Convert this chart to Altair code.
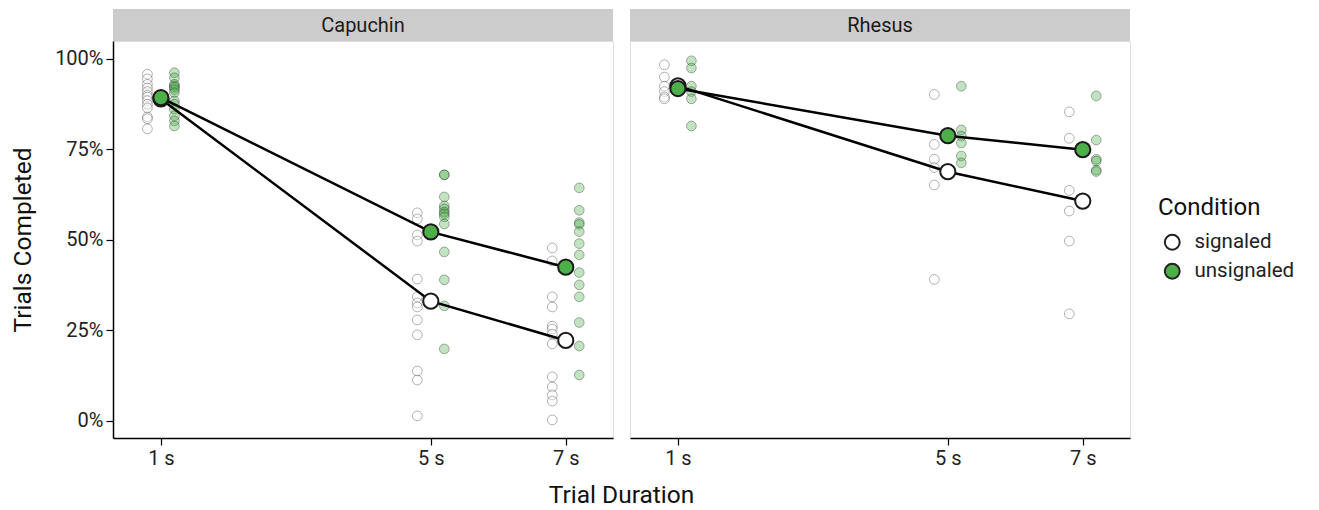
import altair as alt
import pandas as pd

species_list = ["Capuchin", "Rhesus"]
durations = [1, 5, 7]
conditions = ["signaled", "unsignaled"]

# Percent of trials completed per subject
cap_1s_signaled = [95.8, 94.5, 93.0, 92.0, 91.0, 90.0, 89.5, 88.5, 87.5, 86.5, 84.0, 83.5, 80.7]
cap_1s_unsignaled = [96.2, 94.8, 93.0, 92.5, 92.1, 91.5, 90.7, 88.4, 87.5, 86.1, 84.3, 82.9, 81.5]
cap_5s_signaled = [57.5, 55.8, 51.4, 49.7, 39.2, 34.3, 32.6, 31.5, 27.9, 23.8, 13.8, 11.3, 1.4]
cap_5s_unsignaled = [68.0, 68.0, 61.9, 59.4, 58.6, 57.7, 57.2, 56.4, 54.4, 46.7, 39.0, 31.8, 19.9]
cap_7s_signaled = [47.8, 44.2, 34.3, 31.5, 26.2, 25.4, 24.0, 21.3, 12.2, 9.4, 7.2, 5.5, 0.3]
cap_7s_unsignaled = [64.4, 58.2, 54.8, 54.3, 52.3, 49.0, 45.9, 41.0, 37.6, 34.3, 27.2, 20.7, 12.7]

rh_1s_signaled = [98.4, 95.0, 92.5, 91.0, 89.5, 89.0]
rh_1s_unsignaled = [99.5, 97.5, 92.5, 91.0, 89.0, 81.5]
rh_5s_signaled = [90.2, 76.4, 72.3, 70.0, 65.2, 39.1]
rh_5s_unsignaled = [92.5, 80.4, 78.7, 76.8, 73.2, 71.3]
rh_7s_signaled = [85.4, 78.1, 63.7, 58.0, 49.7, 29.6]
rh_7s_unsignaled = [89.8, 77.6, 72.3, 71.8, 69.3, 68.9]

series = {
    ("Capuchin", 1, "signaled"): cap_1s_signaled,
    ("Capuchin", 1, "unsignaled"): cap_1s_unsignaled,
    ("Capuchin", 5, "signaled"): cap_5s_signaled,
    ("Capuchin", 5, "unsignaled"): cap_5s_unsignaled,
    ("Capuchin", 7, "signaled"): cap_7s_signaled,
    ("Capuchin", 7, "unsignaled"): cap_7s_unsignaled,
    ("Rhesus", 1, "signaled"): rh_1s_signaled,
    ("Rhesus", 1, "unsignaled"): rh_1s_unsignaled,
    ("Rhesus", 5, "signaled"): rh_5s_signaled,
    ("Rhesus", 5, "unsignaled"): rh_5s_unsignaled,
    ("Rhesus", 7, "signaled"): rh_7s_signaled,
    ("Rhesus", 7, "unsignaled"): rh_7s_unsignaled,
}

rows = []
for cond in conditions:
    for sp in species_list:
        for d in durations:
            for v in series[(sp, d, cond)]:
                rows.append({"species": sp, "duration": d, "condition": cond, "value": v / 100.0})
df = pd.DataFrame(rows)

GREEN = "#4DAF4A"
FONT = "Roboto"
W, H = 500, 397

xscale = alt.Scale(domain=[0.29, 7.7], nice=False, zero=False)
yscale = alt.Scale(domain=[-0.047, 1.0497], nice=False, zero=False)
fill_scale = alt.Scale(domain=conditions, range=["white", GREEN])

xaxis = alt.Axis(values=durations, labelExpr="datum.value + ' s'", title=None, grid=False,
                 domainColor="black", domainWidth=1.5, tickColor="black", tickWidth=1.2, tickSize=7,
                 labelFontSize=20, labelColor="#222", labelFont=FONT, labelPadding=3)
yaxis = alt.Axis(values=[0, 0.25, 0.5, 0.75, 1.0], format=".0%", title="Trials Completed", grid=False,
                 domainColor="black", domainWidth=1.5, tickColor="black", tickWidth=1.2, tickSize=7,
                 labelFontSize=20, labelColor="#222", labelFont=FONT, labelPadding=3,
                 titleFontSize=24.5, titleFontWeight="normal", titleFont=FONT, titleColor="#111", titlePadding=19)

legend = alt.Legend(title="Condition", orient="none", legendX=528, legendY=155, padding=0,
                    titleFontSize=24, titleFontWeight="normal", titleFont=FONT, titleColor="#111",
                    labelFontSize=20.5, labelFont=FONT, labelColor="#222", symbolType="circle",
                    symbolSize=220, symbolStrokeColor="#222", symbolStrokeWidth=2, symbolOpacity=1,
                    symbolOffset=4, rowPadding=5, titlePadding=12, labelOffset=12)


def panel(sp, first):
    sub = df[df["species"] == sp].copy()
    sub["xpos"] = sub["duration"] + sub["condition"].map({"signaled": -0.2, "unsignaled": 0.2})
    base = alt.Chart(sub)
    ya = yaxis if first else None

    pts = base.mark_point(filled=True, size=95, stroke="black", strokeOpacity=0.3,
                          fillOpacity=0.35, strokeWidth=1, shape="circle").encode(
        x=alt.X("xpos:Q", scale=xscale, axis=xaxis),
        y=alt.Y("value:Q", scale=yscale, axis=ya),
        color=alt.condition(alt.datum.condition == "unsignaled", alt.value(GREEN), alt.value("white")),
    )
    lines = base.mark_line(color="black", strokeWidth=2.5).encode(
        x=alt.X("duration:Q", scale=xscale),
        y=alt.Y("mean(value):Q", scale=yscale),
        detail="condition:N",
    )
    means = base.mark_point(filled=True, size=230, stroke="#1a1a1a", strokeWidth=2,
                            opacity=1, shape="circle").encode(
        x=alt.X("duration:Q", scale=xscale),
        y=alt.Y("mean(value):Q", scale=yscale),
        fill=alt.Fill("condition:N", scale=fill_scale, legend=None if first else legend),
        order=alt.Order("condition:N", sort="ascending"),
    )
    lab = alt.Chart(pd.DataFrame({"label": [sp]}))
    strip = lab.mark_rect(color="#cccccc").encode(
        x=alt.value(0), x2=alt.value(W), y=alt.value(-32), y2=alt.value(0))
    strip_text = lab.mark_text(fontSize=20, font=FONT, color="#1a1a1a", baseline="middle").encode(
        x=alt.value(W / 2), y=alt.value(-15), text="label:N")
    layers = [strip, strip_text, pts, lines, means]
    if first:
        xt = lab.mark_text(fontSize=24.5, font=FONT, color="#111", baseline="middle").encode(
            x=alt.value(W + 8.5), y=alt.value(455), text=alt.value("Trial Duration"))
        layers.append(xt)
    return alt.layer(*layers).properties(width=W, height=H)


chart = alt.hconcat(
    panel("Capuchin", True), panel("Rhesus", False), spacing=17, bounds="flush"
).resolve_scale(
    fill="shared"
).resolve_legend(fill="independent").configure_view(
    stroke="#cfcfcf", strokeWidth=1
).configure(
    font=FONT, background="white"
).properties(padding={"left": 2, "top": 0, "right": 5, "bottom": 5})

chart.save("out.html", embed_options={"renderer": "svg", "actions": False})
